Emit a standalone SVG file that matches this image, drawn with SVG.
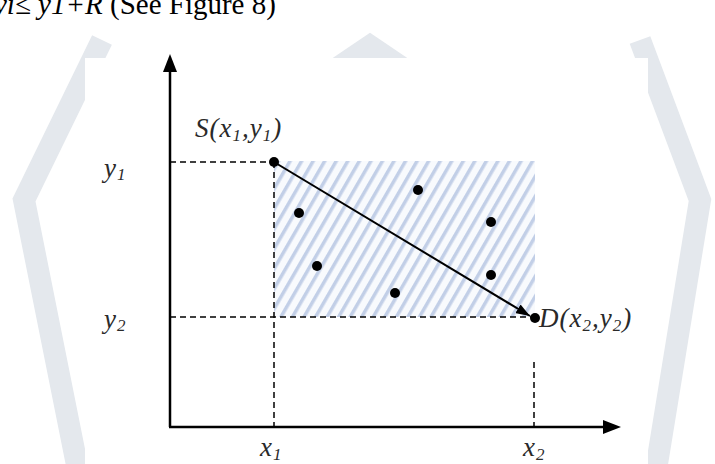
<svg xmlns="http://www.w3.org/2000/svg" width="715" height="464" viewBox="0 0 715 464">
<style>
.wm{fill:none;stroke:#e4e8ed;stroke-width:22;stroke-linejoin:miter}
.ax{stroke:#000;stroke-width:2.5;fill:none}
.dash{stroke:#000;stroke-width:1.5;stroke-dasharray:6 4;fill:none}
.lbl{font-family:"Liberation Serif","Times New Roman",serif;font-style:italic;font-size:27px;fill:#2a2a2a;letter-spacing:1px}
.sub{font-size:17px}
.dot{fill:#000}
</style>
<defs>
<pattern id="hatch" width="10" height="10" patternUnits="userSpaceOnUse" patternTransform="rotate(30)">
<rect width="10" height="10" fill="#f8fafd"/>
<rect x="0" y="0" width="3.5" height="10" fill="#c2cfe7"/>
</pattern>
<marker id="ah" markerWidth="14" markerHeight="10" refX="14" refY="5" orient="auto" markerUnits="userSpaceOnUse">
<path d="M0,0 L14,5 L0,10 z" fill="#000"/>
</marker>
</defs>
<rect width="715" height="464" fill="#fff"/>
<g id="watermark">
<polyline class="wm" points="102,40 24,200 78,470"/>
<polyline class="wm" points="640,40 700,200 656,470"/>
<polyline class="wm" points="290,100 370,46 450,100"/>
</g>
<rect x="85" y="58" width="563" height="406" fill="#fff"/>
<text x="-6" y="14" font-family="Liberation Serif,Times New Roman,serif" font-size="29" fill="#000"><tspan font-style="italic">yi≤ y1+R</tspan> (See Figure 8)</text>
<g id="region"><rect x="274" y="161" width="261" height="156" fill="url(#hatch)"/></g>
<g id="connectors">
<line class="ax" x1="170" y1="427" x2="170" y2="70"/>
<path d="M163,72 L170,54 L177,72 z" fill="#000"/>
<line class="ax" x1="169" y1="427" x2="604" y2="427"/>
<path d="M603,420 L621,427 L603,434 z" fill="#000"/>
<line class="dash" x1="170" y1="162" x2="274" y2="162"/>
<line class="dash" x1="274" y1="162" x2="274" y2="427"/>
<line class="dash" x1="170" y1="317" x2="535" y2="317"/>
<line class="dash" x1="534" y1="362" x2="534" y2="427"/>
<line x1="274" y1="162" x2="530" y2="316" stroke="#000" stroke-width="2" marker-end="url(#ah)"/>
</g>
<g id="S"><circle class="dot" cx="274" cy="162" r="5"/><text class="lbl" x="195" y="137">S(x<tspan class="sub" dy="4">1</tspan><tspan dy="-4">,y</tspan><tspan class="sub" dy="4">1</tspan><tspan dy="-4">)</tspan></text></g>
<g id="D"><circle class="dot" cx="535" cy="318" r="5"/><text class="lbl" x="539" y="327">D(x<tspan class="sub" dy="4">2</tspan><tspan dy="-4">,y</tspan><tspan class="sub" dy="4">2</tspan><tspan dy="-4">)</tspan></text></g>
<g id="points">
<circle class="dot" cx="299" cy="213" r="5"/>
<circle class="dot" cx="317" cy="266" r="5"/>
<circle class="dot" cx="418" cy="190" r="5"/>
<circle class="dot" cx="395" cy="293" r="5"/>
<circle class="dot" cx="491" cy="222" r="5"/>
<circle class="dot" cx="491" cy="275" r="5"/>
</g>
<g id="labels">
<text class="lbl" x="104" y="177">y<tspan class="sub" dy="3">1</tspan></text>
<text class="lbl" x="104" y="328">y<tspan class="sub" dy="3">2</tspan></text>
<text class="lbl" x="260" y="456">x<tspan class="sub" dy="4">1</tspan></text>
<text class="lbl" x="523" y="456">x<tspan class="sub" dy="4">2</tspan></text>
</g>
</svg>
